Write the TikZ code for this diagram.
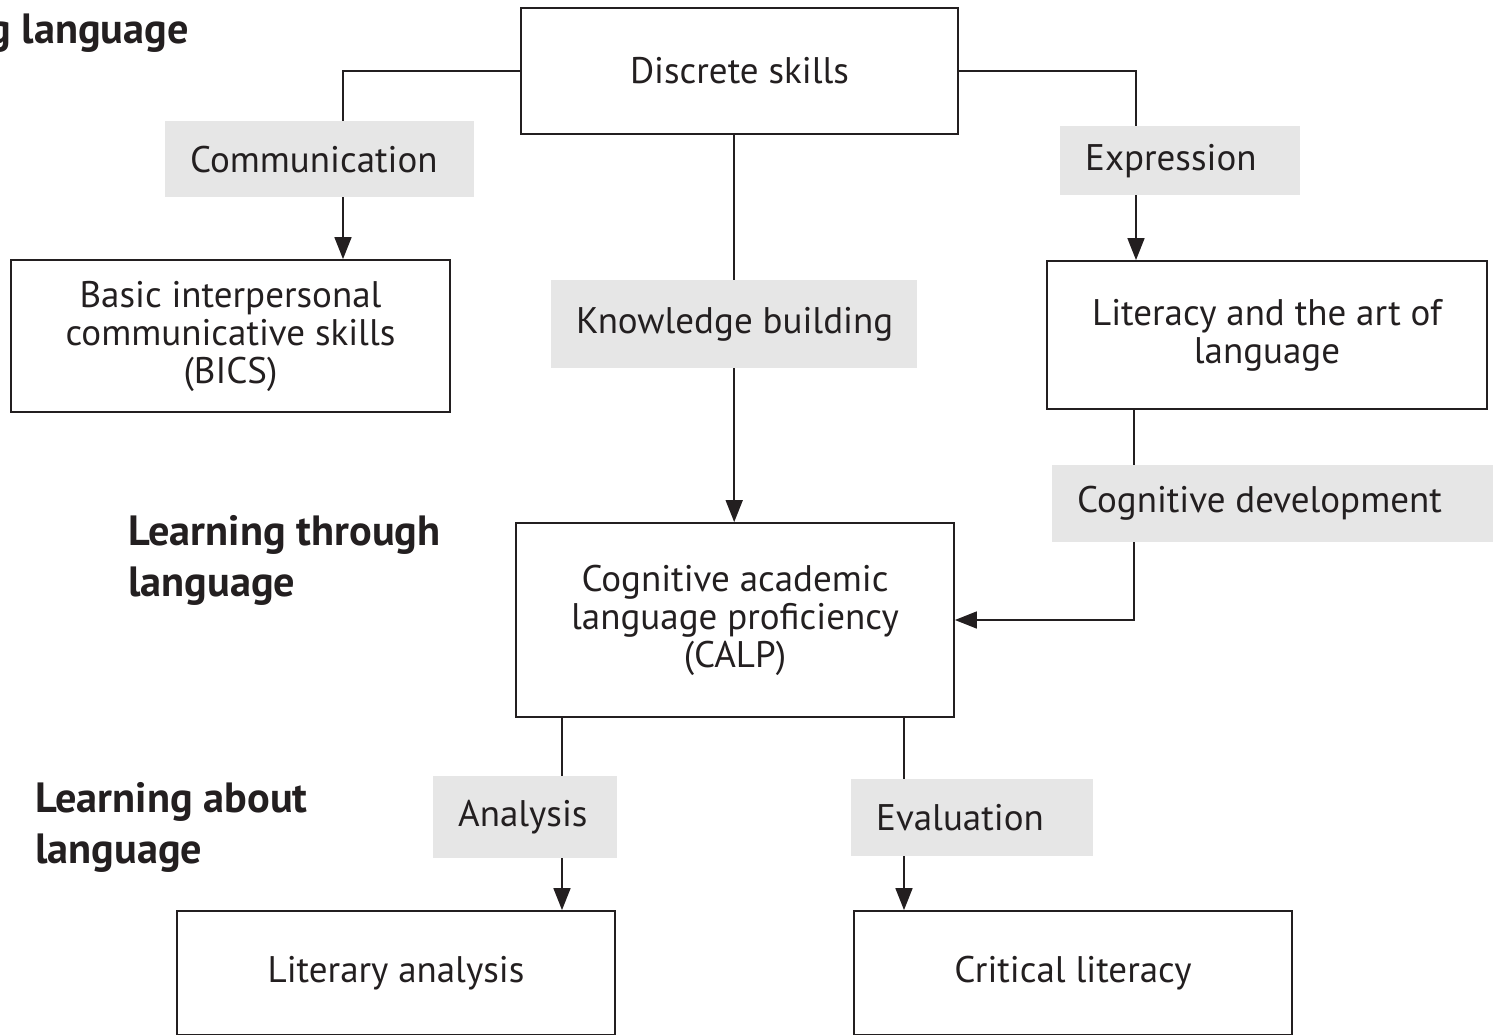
\documentclass[tikz,border=0pt]{standalone}
\usepackage{fontspec}
\setmainfont{PT Sans}
\usepackage{xcolor}
\usetikzlibrary{arrows.meta}
\definecolor{ink}{RGB}{35,31,32}
\definecolor{taggray}{RGB}{230,230,230}

\begin{document}
\begin{tikzpicture}[x=1pt,y=-1pt]
\tikzstyle{every node}+=[inner sep=0pt,text=ink,font=\fontsize{37}{38}\selectfont]
\tikzstyle{box}=[draw=ink,line width=1.8pt,align=center]
\tikzstyle{tag}=[fill=taggray,anchor=north west,align=left,inner xsep=25pt,
  execute at begin node={\spaceskip=0pt\xspaceskip=0pt}]
\tikzstyle{side}=[font=\fontsize{42.3}{51}\selectfont\bfseries,align=left]
\tikzstyle{link}=[draw=ink,line width=1.6pt]
\tikzstyle{arr}=[link,-{Triangle[length=22pt,width=17pt]}]
\useasboundingbox (0,0) rectangle (1493,1035);
% boxes
\node [box,minimum width=437,minimum height=126] (disc) at (739.5,71) {Discrete skills};
\node [box,minimum width=439,minimum height=152] (bics) at (230.5,336) {Basic interpersonal\\communicative skills\\(BICS)};
\node [box,minimum width=440,minimum height=148] (lit) at (1267,335) {Literacy and the art of\\language};
\node [box,minimum width=438,minimum height=194] (calp) at (735,620) {Cognitive academic\\language proficiency\\(CALP)};
\node [box,minimum width=438,minimum height=124] (litan) at (396,973) {Literary analysis};
\node [box,minimum width=438,minimum height=124] (crit) at (1073,973) {Critical literacy};
% grey labels
\node [tag,text width=259,minimum height=76] (comm) at (165,121) {Communication};
\node [tag,text width=190,minimum height=69] (expr) at (1060,126) {Expression};
\node [tag,text width=316,minimum height=88] (know) at (551,280) {\mbox{Knowledge building}};
\node [tag,text width=391,minimum height=77] (cog) at (1052,465) {Cognitive development};
\node [tag,text width=134,minimum height=82] (ana) at (433,776) {Analysis};
\node [tag,text width=192,minimum height=77] (eval) at (851,779) {Evaluation};
% side headings
\node [side,anchor=base east] (top) at (189,44) {g language};
\node [side,anchor=north west] (through) at (128,515) {Learning through\\language};
\node [side,anchor=north west] (about) at (35,782) {Learning about\\language};
% branch lines
\coordinate (commx) at (343,0);
\coordinate (exprx) at (1136,0);
\coordinate (cogx) at (1134,0);
\coordinate (anx) at (562,0);
\coordinate (evx) at (904,0);
\draw [link] (disc.west) -| (comm.north -| commx);
\draw [arr] (comm.south -| commx) -- (bics.north -| commx);
\draw [link] (disc.east) -| (expr.north -| exprx);
\draw [arr] (expr.south -| exprx) -- (lit.north -| exprx);
\draw [link] (disc.south -| know.north) -- (know.north);
\draw [arr] (know.south) -- (calp.north -| know.south);
\draw [link] (lit.south -| cogx) -- (cog.north -| cogx);
\draw [arr] (cog.south -| cogx) |- (calp.east);
\draw [link] (calp.south -| anx) -- (ana.north -| anx);
\draw [arr] (ana.south -| anx) -- (litan.north -| anx);
\draw [link] (calp.south -| evx) -- (eval.north -| evx);
\draw [arr] (eval.south -| evx) -- (crit.north -| evx);
\end{tikzpicture}
\end{document}
